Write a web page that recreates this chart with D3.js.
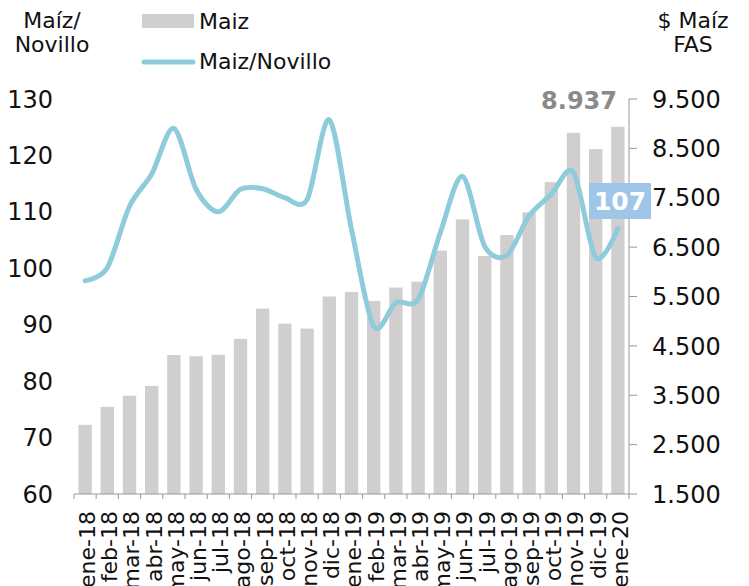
<!DOCTYPE html>
<html>
<head>
<meta charset="utf-8">
<script src="https://cdn.jsdelivr.net/npm/d3@7"></script>
<style>
  body{margin:0;background:#fff}
  svg text{font-family:"DejaVu Sans",sans-serif}
</style>
</head>
<body>
<div id="chart"></div>
<script>
  // data
  var months = ['ene-18','feb-18','mar-18','abr-18','may-18','jun-18','jul-18','ago-18','sep-18','oct-18','nov-18','dic-18',
                'ene-19','feb-19','mar-19','abr-19','may-19','jun-19','jul-19','ago-19','sep-19','oct-19','nov-19','dic-19','ene-20'];

  // $ Maiz FAS (bars, right axis)
  var maiz = [2900,3265,3490,3690,4315,4290,4320,4640,5255,4950,4850,5500,
              5590,5410,5680,5800,6430,7060,6320,6745,7205,7815,8815,8485,8937];

  // Maiz/Novillo ratio (line, left axis)
  var ratio = [97.8,100.1,111,116.7,124.8,114,110,114,114.1,112.5,112.2,126.3,
               106.9,89.7,93.9,94.5,106.3,116.3,103.9,102.3,109.3,113.1,117,101.9,107];

  var leftTicks  = [60,70,80,90,100,110,120,130];
  var rightTicks = [1500,2500,3500,4500,5500,6500,7500,8500,9500];

  // plot box (window.top is taken, so use a margin object)
  var W = 749, H = 586;
  var m = {left: 74, right: 629, top: 99, bottom: 494};

  var fmt = d3.formatLocale({decimal:',', thousands:'.', grouping:[3], currency:['$','']}).format(',');

  var svg = d3.select('#chart').append('svg')
    .attr('width', W)
    .attr('height', H);

  var x = d3.scaleBand().domain(months).range([m.left, m.right]).paddingInner(0.4).paddingOuter(0.2);
  var yL = d3.scaleLinear().domain([60,130]).range([m.bottom, m.top]);
  var yR = d3.scaleLinear().domain([1500,9500]).range([m.bottom, m.top]);

  // bars
  svg.append('g').selectAll('rect').data(maiz).enter().append('rect')
    .attr('x', function(d,i){ return x(months[i]) })
    .attr('width', x.bandwidth())
    .attr('y', function(d){ return yR(d) })
    .attr('height', function(d){ return m.bottom - yR(d) })
    .attr('fill', '#d0cecf');

  // line
  var line = d3.line()
    .x(function(d,i){ return x(months[i]) + x.bandwidth()/2 })
    .y(function(d){ return yL(d) })
    .curve(d3.curveCardinal.tension(0.1));

  svg.append('path').datum(ratio)
    .attr('d', line)
    .attr('fill', 'none')
    .attr('stroke', '#8ecbdb')
    .attr('stroke-width', 5)
    .attr('stroke-linecap', 'round');

  // x axis: ticks on band edges
  var xAxis = svg.append('g').attr('transform', 'translate(0,' + m.bottom + ')');
  xAxis.append('line').attr('x1', m.left).attr('x2', m.right).attr('stroke', '#999');
  var edges = d3.range(months.length + 1).map(function(i){ return m.left + i * x.step() });
  xAxis.selectAll('.tk').data(edges).enter().append('line')
    .attr('x1', function(d){ return d }).attr('x2', function(d){ return d })
    .attr('y1', 0).attr('y2', 5).attr('stroke', '#999');
  xAxis.selectAll('text').data(months).enter().append('text')
    .attr('transform', function(d){ return 'translate(' + (x(d) + x.bandwidth()/2 + 2) + ',17) rotate(-90)' })
    .attr('dy', '0.36em')
    .attr('text-anchor', 'end')
    .style('font-size', '22px')
    .attr('fill', '#111')
    .text(function(d){ return d });

  // left axis (labels only)
  svg.append('g').selectAll('text').data(leftTicks).enter().append('text')
    .attr('x', 53).attr('y', function(d){ return yL(d) })
    .attr('dy', '0.36em')
    .attr('text-anchor', 'end')
    .style('font-size', '24px')
    .attr('fill', '#111')
    .text(function(d){ return d });

  // right axis
  var rAxis = svg.append('g').attr('transform', 'translate(' + m.right + ',0)');
  rAxis.append('line').attr('y1', m.top).attr('y2', m.bottom).attr('stroke', '#999');
  rAxis.selectAll('line.tk').data(rightTicks).enter().append('line')
    .attr('class', 'tk')
    .attr('x1', 0).attr('x2', 8)
    .attr('y1', function(d){ return yR(d) }).attr('y2', function(d){ return yR(d) })
    .attr('stroke', '#999');
  rAxis.selectAll('text').data(rightTicks).enter().append('text')
    .attr('x', 23).attr('y', function(d){ return yR(d) })
    .attr('dy', '0.36em')
    .style('font-size', '24px')
    .attr('fill', '#111')
    .text(function(d){ return fmt(d) });

  // axis titles
  var titleStyle = function(sel){
    sel.style('font-size', '22px').attr('fill', '#111');
  };
  svg.append('text').attr('x', 52).attr('y', 28).attr('text-anchor', 'middle').call(titleStyle).text('Maíz/');
  svg.append('text').attr('x', 52).attr('y', 52).attr('text-anchor', 'middle').call(titleStyle).text('Novillo');
  svg.append('text').attr('x', 693).attr('y', 28).attr('text-anchor', 'middle').call(titleStyle).text('$ Maíz');
  svg.append('text').attr('x', 693).attr('y', 52).attr('text-anchor', 'middle').call(titleStyle).text('FAS');

  // legend
  svg.append('rect').attr('x', 142).attr('y', 14).attr('width', 52).attr('height', 14).attr('fill', '#d0cecf');
  svg.append('text').attr('x', 199).attr('y', 29).call(titleStyle).text('Maiz');
  svg.append('line').attr('x1', 144).attr('x2', 193).attr('y1', 62).attr('y2', 62)
    .attr('stroke', '#8ecbdb').attr('stroke-width', 5).attr('stroke-linecap', 'round');
  svg.append('text').attr('x', 199).attr('y', 69).call(titleStyle).text('Maiz/Novillo');

  // annotations on the last month
  var last = months.length - 1;
  svg.append('text')
    .attr('x', 617).attr('y', yR(9500) + 1)
    .attr('dy', '0.36em')
    .attr('text-anchor', 'end')
    .style('font-size', '24px').style('font-weight', 'bold')
    .attr('fill', '#8a8a8a')
    .text(fmt(maiz[last]));

  svg.append('rect').attr('x', 589).attr('y', 183).attr('width', 62).attr('height', 36).attr('fill', '#9fc5e8');
  svg.append('text')
    .attr('x', 620).attr('y', 201)
    .attr('dy', '0.36em')
    .attr('text-anchor', 'middle')
    .style('font-size', '25px').style('font-weight', 'bold')
    .attr('fill', '#fff')
    .text(Math.round(ratio[last]));
</script>
</body>
</html>
